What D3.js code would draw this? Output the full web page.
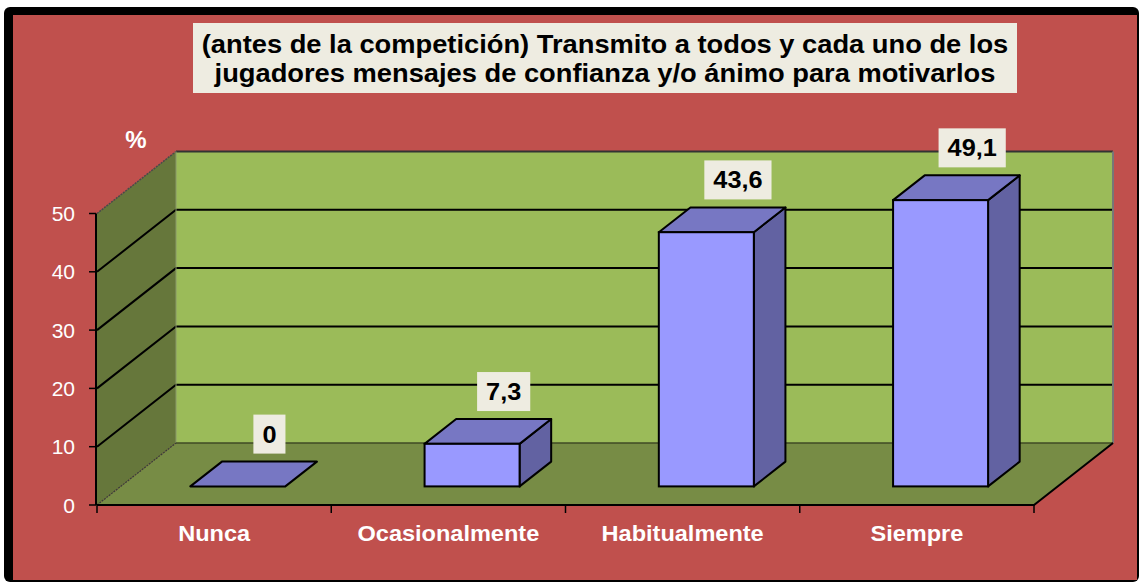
<!DOCTYPE html>
<html>
<head>
<meta charset="utf-8">
<script src="https://cdn.jsdelivr.net/npm/d3@7/dist/d3.min.js"></script>
<style>
  html, body { margin: 0; padding: 0; background: #ffffff; }
  svg { display: block; }
  text { font-family: Arial, "Liberation Sans", sans-serif; }
</style>
</head>
<body>
<svg id="chart" width="1140" height="582"></svg>
<script>
// Survey answers (percent of respondents)
const categories = ["Nunca", "Ocasionalmente", "Habitualmente", "Siempre"];
const values = [0, 7.3, 43.6, 49.1];
const yTicks = [0, 10, 20, 30, 40, 50];
const titleLines = [
  "(antes de la competición) Transmito a todos y cada uno de los",
  "jugadores mensajes de confianza y/o ánimo para motivarlos"
];
const yAxisLabel = "%";

const svg = d3.select("#chart");

// Frame
svg.append("rect").attr("x", 4).attr("y", 7).attr("width", 1135).attr("height", 575)
  .attr("rx", 6).attr("fill", "#000");
svg.append("rect").attr("x", 13).attr("y", 15).attr("width", 1124).attr("height", 565)
  .attr("fill", "#C0504D");

// Plot geometry: front floor edge runs along x, depth shifts up-right
const x = d3.scaleBand().domain(categories).range([97, 1034]).paddingInner(0).paddingOuter(0);
const y = d3.scaleLinear().domain([0, 50]).range([505, 213.5]);
const DX = 79, DY = 62;              // depth offset of the back wall
const d0 = 0.3, d1 = 0.7;            // bar depth span
const barW = 95;

const x0 = x.range()[0], x1 = x.range()[1];
const yMax = d3.max(yTicks);
const pts = a => a.map(p => p.join(",")).join(" ");

// Back wall
svg.append("polygon")
  .attr("points", pts([[x0 + DX, y(0) - DY], [x1 + DX, y(0) - DY], [x1 + DX, y(yMax) - DY], [x0 + DX, y(yMax) - DY]]))
  .attr("fill", "#9BBB59");
// Left side wall
svg.append("polygon")
  .attr("points", pts([[x0, y(0)], [x0 + DX, y(0) - DY], [x0 + DX, y(yMax) - DY], [x0, y(yMax)]]))
  .attr("fill", "#66773B");

// Gridlines on both walls
const grid = yTicks.filter(v => v > 0 && v < yMax);
svg.append("g").selectAll("polyline").data(grid).join("polyline")
  .attr("points", v => pts([[x0, y(v)], [x0 + DX, y(v) - DY], [x1 + DX, y(v) - DY]]))
  .attr("fill", "none").attr("stroke", "#000").attr("stroke-width", 2);

// Wall top edges
svg.append("line").attr("x1", x0).attr("y1", y(yMax)).attr("x2", x0 + DX).attr("y2", y(yMax) - DY)
  .attr("stroke", "#4a4a4a").attr("stroke-width", 1.5).attr("stroke-dasharray", "2,1");
svg.append("line").attr("x1", x0 + DX).attr("y1", y(yMax) - DY).attr("x2", x1 + DX).attr("y2", y(yMax) - DY)
  .attr("stroke", "#333").attr("stroke-width", 2);
svg.append("line").attr("x1", x1 + DX).attr("y1", y(yMax) - DY).attr("x2", x1 + DX).attr("y2", y(0) - DY)
  .attr("stroke", "#777").attr("stroke-width", 2);
svg.append("line").attr("x1", x0 + DX).attr("y1", y(yMax) - DY).attr("x2", x0 + DX).attr("y2", y(0) - DY)
  .attr("stroke", "#8a9a6a").attr("stroke-width", 1);

// Floor
svg.append("polygon")
  .attr("points", pts([[x0, y(0)], [x1, y(0)], [x1 + DX, y(0) - DY], [x0 + DX, y(0) - DY]]))
  .attr("fill", "#778C45");
svg.append("line").attr("x1", x0 + DX).attr("y1", y(0) - DY).attr("x2", x1 + DX).attr("y2", y(0) - DY)
  .attr("stroke", "#3f4a25").attr("stroke-width", 1.5);
svg.append("line").attr("x1", x0).attr("y1", y(0)).attr("x2", x0 + DX).attr("y2", y(0) - DY)
  .attr("stroke", "#3a3a3a").attr("stroke-width", 1.2).attr("stroke-dasharray", "2,1");
svg.append("polyline")
  .attr("points", pts([[x0, y(0)], [x1, y(0)], [x1 + DX, y(0) - DY]]))
  .attr("fill", "none").attr("stroke", "#000").attr("stroke-width", 2);

// Value axis
svg.append("line").attr("x1", x0 - 1).attr("y1", y(0)).attr("x2", x0 - 1).attr("y2", y(yMax))
  .attr("stroke", "#000").attr("stroke-width", 2);
const yAxis = svg.append("g");
yAxis.selectAll("line").data(yTicks).join("line")
  .attr("x1", x0 - 8).attr("x2", x0 - 1).attr("y1", d => y(d)).attr("y2", d => y(d))
  .attr("stroke", "#000").attr("stroke-width", 1.5);
yAxis.selectAll("text").data(yTicks).join("text")
  .attr("x", 75).attr("y", d => y(d)).attr("dy", "0.36em")
  .attr("text-anchor", "end").attr("fill", "#fff").attr("font-size", 21)
  .text(d => d);
svg.append("text").attr("x", 136).attr("y", 148).attr("text-anchor", "middle")
  .attr("fill", "#fff").attr("font-size", 24).attr("font-weight", "bold").text(yAxisLabel);

// Category axis ticks and labels
const bounds = categories.map(c => x(c)).concat([x1]);
svg.append("g").selectAll("line").data(bounds).join("line")
  .attr("x1", d => d).attr("x2", d => d).attr("y1", y(0)).attr("y2", y(0) + 8)
  .attr("stroke", "#000").attr("stroke-width", 1.5);
svg.append("g").selectAll("text").data(categories).join("text")
  .attr("transform", c => `translate(${x(c) + x.step() / 2},541) scale(1.07,1)`)
  .attr("text-anchor", "middle").attr("fill", "#fff")
  .attr("font-size", 22).attr("font-weight", "bold").text(c => c);

// 3D bars
const data = categories.map((c, i) => ({ c, v: values[i] }));
const barGeom = d => {
  const cx = x(d.c) + x.step() / 2;
  const fl = cx - barW / 2 + d0 * DX, fr = fl + barW;
  const fb = y(0) - d0 * DY, ft = y(d.v) - d0 * DY;
  const ddx = (d1 - d0) * DX, ddy = (d1 - d0) * DY;
  return { fl, fr, fb, ft, ddx, ddy };
};
const bars = svg.append("g").selectAll("g").data(data).join("g");
bars.each(function (d) {
  const g = d3.select(this);
  const b = barGeom(d);
  if (d.v > 0) {
    g.append("polygon")
      .attr("points", pts([[b.fr, b.fb], [b.fr + b.ddx, b.fb - b.ddy], [b.fr + b.ddx, b.ft - b.ddy], [b.fr, b.ft]]))
      .attr("fill", "#6262A2").attr("stroke", "#000").attr("stroke-width", 2).attr("stroke-linejoin", "round");
  }
  g.append("polygon")
    .attr("points", pts([[b.fl, b.ft], [b.fr, b.ft], [b.fr + b.ddx, b.ft - b.ddy], [b.fl + b.ddx, b.ft - b.ddy]]))
    .attr("fill", "#7777C3").attr("stroke", "#000").attr("stroke-width", 2).attr("stroke-linejoin", "round");
  if (d.v > 0) {
    g.append("rect").attr("x", b.fl).attr("y", b.ft).attr("width", barW).attr("height", b.fb - b.ft)
      .attr("fill", "#9999FF").attr("stroke", "#000").attr("stroke-width", 2);
  }
});

// Value labels
const fmt = v => d3.format(".1~f")(v).replace(".", ",");
const labels = svg.append("g").selectAll("g").data(data).join("g")
  .attr("transform", d => {
    const b = barGeom(d);
    const cx = (b.fl + b.fr) / 2 + b.ddx;
    const by = b.ft - b.ddy - 8;
    return `translate(${cx},${by})`;
  });
labels.append("text")
  .attr("class", "val")
  .attr("transform", "translate(0,-11) scale(1.1,1)")
  .attr("text-anchor", "middle").attr("fill", "#000")
  .attr("font-size", 23).attr("font-weight", "bold").text(d => fmt(d.v));
labels.each(function () {
  const g = d3.select(this);
  const t = g.select("text");
  const w = t.node().getBBox().width * 1.1;
  g.insert("rect", "text").attr("x", -w / 2 - 9).attr("y", -39).attr("width", w + 18).attr("height", 39)
    .attr("fill", "#EEECE1");
});

// Title
svg.append("rect").attr("x", 193).attr("y", 23).attr("width", 824).attr("height", 70).attr("fill", "#EEECE1");
svg.append("g").selectAll("text").data(titleLines).join("text")
  .attr("transform", (d, i) => `translate(605,${53 + i * 29}) scale(1.05,1)`)
  .attr("text-anchor", "middle").attr("fill", "#000")
  .attr("font-size", 26).attr("font-weight", "bold").text(d => d);
</script>
</body>
</html>
